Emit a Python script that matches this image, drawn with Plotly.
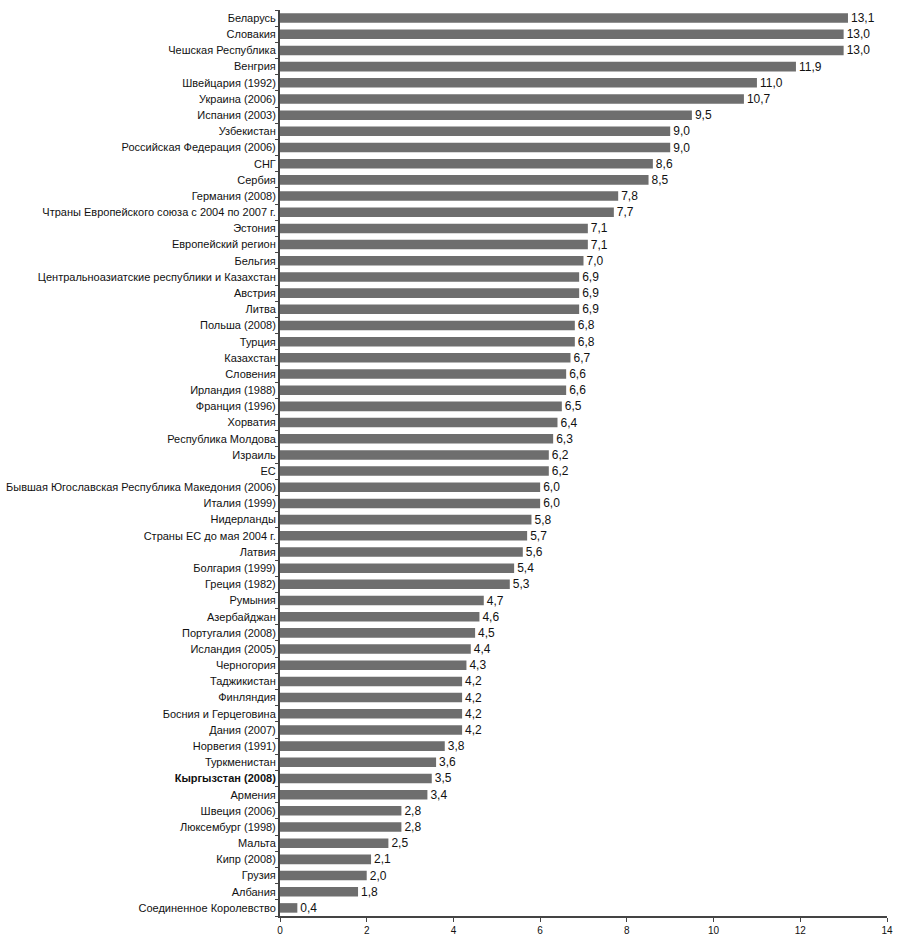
import plotly.graph_objects as go

categories = [
    "Беларусь", "Словакия", "Чешская Республика", "Венгрия", "Швейцария (1992)",
    "Украина (2006)", "Испания (2003)", "Узбекистан", "Российская Федерация (2006)",
    "СНГ", "Сербия", "Германия (2008)", "Чтраны Европейского союза с 2004 по 2007 г.",
    "Эстония", "Европейский регион", "Бельгия",
    "Центральноазиатские республики и Казахстан", "Австрия", "Литва", "Польша (2008)",
    "Турция", "Казахстан", "Словения", "Ирландия (1988)", "Франция (1996)", "Хорватия",
    "Республика Молдова", "Израиль", "ЕС",
    "Бывшая Югославская Республика Македония (2006)", "Италия (1999)", "Нидерланды",
    "Страны ЕС до мая 2004 г.", "Латвия", "Болгария (1999)", "Греция (1982)", "Румыния",
    "Азербайджан", "Португалия (2008)", "Исландия (2005)", "Черногория", "Таджикистан",
    "Финляндия", "Босния и Герцеговина", "Дания (2007)", "Норвегия (1991)",
    "Туркменистан", "Кыргызстан (2008)", "Армения", "Швеция (2006)",
    "Люксембург (1998)", "Мальта", "Кипр (2008)", "Грузия", "Албания",
    "Соединенное Королевство",
]
values = [
    13.1, 13.0, 13.0, 11.9, 11.0, 10.7, 9.5, 9.0, 9.0, 8.6, 8.5, 7.8, 7.7, 7.1, 7.1,
    7.0, 6.9, 6.9, 6.9, 6.8, 6.8, 6.7, 6.6, 6.6, 6.5, 6.4, 6.3, 6.2, 6.2, 6.0, 6.0,
    5.8, 5.7, 5.6, 5.4, 5.3, 4.7, 4.6, 4.5, 4.4, 4.3, 4.2, 4.2, 4.2, 4.2, 3.8, 3.6,
    3.5, 3.4, 2.8, 2.8, 2.5, 2.1, 2.0, 1.8, 0.4,
]
highlight = "Кыргызстан (2008)"
x_ticks = [0, 2, 4, 6, 8, 10, 12, 14]

value_text = [f"{v:.1f}".replace(".", ",") for v in values]
tick_text = [f"<b>{c}</b>" if c == highlight else c for c in categories]

fig = go.Figure(
    go.Bar(
        x=values,
        y=categories,
        orientation="h",
        marker=dict(color="#6e6e6e", line=dict(width=0)),
        text=value_text,
        textposition="outside",
        constraintext="none",
        textfont=dict(family="Liberation Sans, Arial, sans-serif", size=12, color="#111111"),
        cliponaxis=False,
        hoverinfo="skip",
    )
)

fig.update_layout(
    width=897,
    height=938,
    margin=dict(l=280, r=10, t=10, b=22),
    paper_bgcolor="white",
    plot_bgcolor="white",
    bargap=0.41,
    showlegend=False,
    font=dict(family="Liberation Sans, Arial, sans-serif", color="#111111"),
)
fig.update_yaxes(
    categoryorder="array",
    categoryarray=categories,
    tickmode="array",
    tickvals=categories,
    ticktext=tick_text,
    autorange="reversed",
    automargin=False,
    showline=True,
    linecolor="#444444",
    linewidth=2,
    ticks="outside",
    tickson="boundaries",
    ticklen=3,
    tickcolor="#444444",
    tickwidth=1,
    tickfont=dict(size=11, color="#111111"),
    showgrid=False,
    zeroline=False,
)
fig.update_xaxes(
    range=[0, 14],
    tickmode="array",
    tickvals=x_ticks,
    ticktext=[str(t) for t in x_ticks],
    automargin=False,
    showline=True,
    linecolor="#444444",
    linewidth=2,
    ticks="outside",
    ticklen=4,
    tickcolor="#444444",
    tickfont=dict(size=10, color="#111111"),
    showgrid=False,
    zeroline=False,
)

fig.write_html(
    "out.html",
    config={"displayModeBar": False},
    post_script="document.body.style.margin='0px';",
)
